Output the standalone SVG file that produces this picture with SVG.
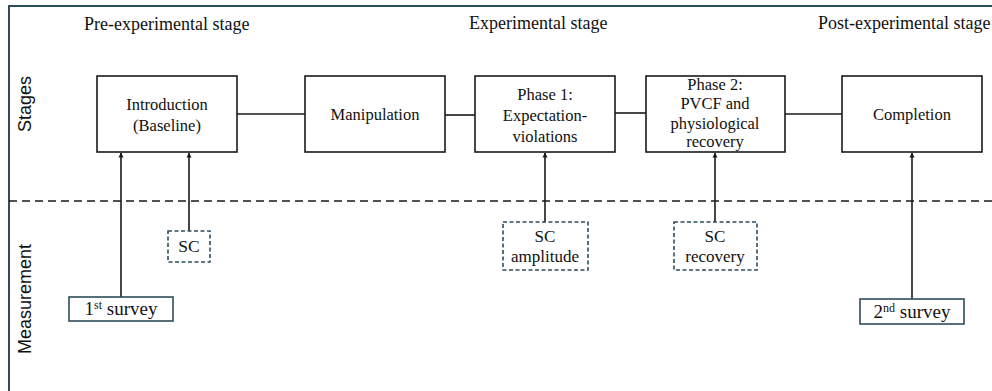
<svg xmlns="http://www.w3.org/2000/svg" width="992" height="391" viewBox="0 0 992 391">
  <style>
    .frame { fill: none; stroke: #2e4d5c; stroke-width: 2; }
    .stage { fill: #ffffff; stroke: #1a1a1a; stroke-width: 1.6; }
    .meas-solid { fill: #ffffff; stroke: #2e4d5c; stroke-width: 1.6; }
    .meas-dash { fill: #ffffff; stroke: #2e4d5c; stroke-width: 1.6; stroke-dasharray: 4 2.5; }
    .link { stroke: #1a1a1a; stroke-width: 1.6; fill: none; }
    .divider { stroke: #1a1a1a; stroke-width: 1.5; stroke-dasharray: 8 5; }
    .side { font-family: 'Liberation Sans', Arial, sans-serif; font-size: 18px; fill: #111111; text-anchor: middle; }
  </style>
  <defs>
    <marker id="arrow" viewBox="0 0 10 10" refX="9" refY="5" markerWidth="5" markerHeight="6" markerUnits="userSpaceOnUse" orient="auto">
      <path d="M0,0 L10,5 L0,10 z" fill="#1a1a1a"/>
    </marker>
  </defs>

  <rect width="992" height="391" fill="#ffffff"/>

  <!-- outer frame: top and left edges -->
  <path class="frame" d="M9,391 V6 H992"/>

  <!-- section labels -->
  <text class="side" transform="translate(31,104) rotate(-90)">Stages</text>
  <text class="side" transform="translate(31,299) rotate(-90)">Measurement</text>

  <!-- divider between stages and measurements -->
  <line class="divider" x1="9" y1="201" x2="992" y2="201"/>

  <!-- connectors -->
  <g id="connectors">
    <line class="link" x1="237" y1="114" x2="305" y2="114"/>
    <line class="link" x1="445" y1="115" x2="475" y2="115"/>
    <line class="link" x1="615" y1="113" x2="646" y2="113"/>
    <line class="link" x1="785" y1="114" x2="842" y2="114"/>
    <line class="link" x1="121" y1="297" x2="121" y2="153" marker-end="url(#arrow)"/>
    <line class="link" x1="189" y1="231" x2="189" y2="153" marker-end="url(#arrow)"/>
    <line class="link" x1="545" y1="222" x2="545" y2="153" marker-end="url(#arrow)"/>
    <line class="link" x1="715" y1="222" x2="715" y2="153" marker-end="url(#arrow)"/>
    <line class="link" x1="912" y1="299" x2="912" y2="153" marker-end="url(#arrow)"/>
  </g>

  <g font-family="Liberation Serif, Times New Roman, DejaVu Serif, serif" font-size="16.5" fill="#111111">
    <!-- stage headings -->
    <g font-size="18">
      <text x="84" y="30">Pre-experimental stage</text>
      <text x="469" y="29">Experimental stage</text>
      <text x="818" y="29">Post-experimental stage</text>
    </g>

    <g text-anchor="middle">
      <!-- stage nodes -->
      <g id="introduction">
        <rect class="stage" x="97" y="76" width="140" height="76"/>
        <text x="167" y="110">Introduction</text>
        <text x="167" y="131">(Baseline)</text>
      </g>
      <g id="manipulation">
        <rect class="stage" x="305" y="76" width="140" height="76"/>
        <text x="375" y="120">Manipulation</text>
      </g>
      <g id="phase1">
        <rect class="stage" x="475" y="76" width="140" height="76"/>
        <text x="545" y="100">Phase 1:</text>
        <text x="545" y="121">Expectation-</text>
        <text x="545" y="142">violations</text>
      </g>
      <g id="phase2">
        <rect class="stage" x="646" y="76" width="139" height="76"/>
        <text x="715" y="90">Phase 2:</text>
        <text x="715" y="109">PVCF and</text>
        <text x="715" y="129">physiological</text>
        <text x="715" y="147">recovery</text>
      </g>
      <g id="completion">
        <rect class="stage" x="842" y="76" width="140" height="76"/>
        <text x="912" y="120">Completion</text>
      </g>

      <!-- measurement nodes -->
      <g id="survey1">
        <rect class="meas-solid" x="69" y="297" width="104" height="24"/>
        <text x="121" y="315" font-size="19">1<tspan font-size="12" dy="-6">st</tspan><tspan dy="6"> survey</tspan></text>
      </g>
      <g id="sc">
        <rect class="meas-dash" x="168" y="231" width="42" height="31"/>
        <text x="189" y="252" font-size="17.5">SC</text>
      </g>
      <g id="sc-amplitude" font-size="17">
        <rect class="meas-dash" x="503" y="222" width="85" height="48"/>
        <text x="545" y="242">SC</text>
        <text x="545" y="262">amplitude</text>
      </g>
      <g id="sc-recovery" font-size="17">
        <rect class="meas-dash" x="674" y="222" width="83" height="48"/>
        <text x="715" y="242">SC</text>
        <text x="715" y="262">recovery</text>
      </g>
      <g id="survey2">
        <rect class="meas-solid" x="860" y="299" width="104" height="25"/>
        <text x="912" y="318" font-size="19">2<tspan font-size="12" dy="-6">nd</tspan><tspan dy="6"> survey</tspan></text>
      </g>
    </g>
  </g>
</svg>
